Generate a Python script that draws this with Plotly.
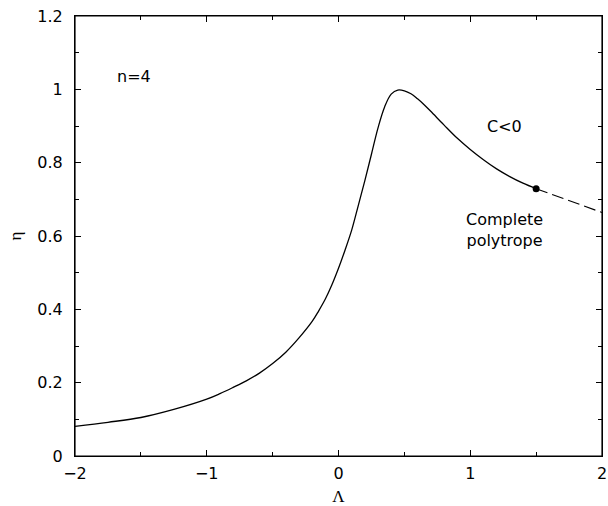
import plotly.graph_objects as go

# Solid branch (C<0)
lam_solid = [-2.0, -1.75, -1.5, -1.25, -1.0, -0.9, -0.8, -0.7, -0.6, -0.5, -0.4, -0.3,
             -0.2, -0.15, -0.1, -0.05, 0.0, 0.05, 0.1, 0.15, 0.2, 0.25, 0.3, 0.35, 0.4,
             0.45, 0.5, 0.55, 0.6, 0.65, 0.7, 0.8, 0.9, 1.0, 1.1, 1.2, 1.3, 1.4, 1.5]
eta_solid = [0.081, 0.092, 0.105, 0.127, 0.155, 0.170, 0.187, 0.205, 0.226, 0.252, 0.283, 0.322,
             0.367, 0.396, 0.428, 0.467, 0.512, 0.562, 0.616, 0.683, 0.751, 0.823, 0.895, 0.952, 0.987,
             0.998, 0.996, 0.988, 0.974, 0.958, 0.940, 0.903, 0.867, 0.836, 0.808, 0.783, 0.762,
             0.744, 0.729]

# Dashed continuation
lam_dash = [1.5, 1.75, 2.0]
eta_dash = [0.729, 0.696, 0.664]

# Complete polytrope point
lam_point = [1.5]
eta_point = [0.729]

x_ticks = [-2, -1, 0, 1, 2]
y_ticks = [0, 0.2, 0.4, 0.6, 0.8, 1.0, 1.2]

FONT = "DejaVu Sans"

fig = go.Figure()
fig.add_trace(go.Scatter(x=lam_solid, y=eta_solid, mode="lines",
                         line=dict(color="black", width=1.3, shape="spline", smoothing=1.0),
                         showlegend=False, hoverinfo="skip"))
fig.add_trace(go.Scatter(x=lam_dash, y=eta_dash, mode="lines",
                         line=dict(color="black", width=1.1, dash="12px,5px"),
                         showlegend=False, hoverinfo="skip"))
fig.add_trace(go.Scatter(x=lam_point, y=eta_point, mode="markers",
                         marker=dict(color="black", size=7),
                         showlegend=False, hoverinfo="skip"))

annots = [
    dict(x=-1.556, y=1.036, text="n=4"),
    dict(x=1.26, y=0.90, text="C<0"),
    dict(x=1.26, y=0.616, text="Complete<br>polytrope"),
]
for a in annots:
    fig.add_annotation(x=a["x"], y=a["y"], text=a["text"], showarrow=False,
                       xref="x", yref="y", font=dict(family=FONT, size=16, color="black"),
                       align="center")

# frame around plotting area
fig.add_shape(type="rect", xref="paper", yref="paper", x0=0, y0=0, x1=1, y1=1,
              line=dict(color="black", width=1.2), layer="above")

axis_common = dict(showgrid=False, zeroline=False, showline=True, linecolor="black",
                   linewidth=1.2, mirror="allticks", ticks="inside", ticklen=6,
                   tickwidth=1, tickcolor="black", automargin=False,
                   ticklabeloverflow="allow",
                   tickfont=dict(family=FONT, size=16, color="black"))
minor_x = dict(dtick=0.5, ticks="inside", ticklen=3.5, tickcolor="black", tickwidth=1)
minor_y = dict(dtick=0.1, ticks="inside", ticklen=3.5, tickcolor="black", tickwidth=1)

fig.update_layout(
    xaxis=dict(range=[-2, 2], tickvals=x_ticks, ticklabelstandoff=3, minor=minor_x,
               title=dict(text="Λ", font=dict(family="Liberation Serif", size=17, color="black"),
                          standoff=13),
               **axis_common),
    yaxis=dict(range=[0, 1.2], tickvals=y_ticks, ticklabelstandoff=8, minor=minor_y,
               title=dict(text="η", font=dict(family="Liberation Serif", size=17, color="black"),
                          standoff=11),
               **axis_common),
    width=608, height=506, plot_bgcolor="white", paper_bgcolor="white",
    margin=dict(l=75, r=6, t=16, b=50),
)

# remove the browser's default 8px body margin so the 608x506 figure fills the window exactly
fig.write_html(
    "out.html",
    config={"displayModeBar": False},
    post_script=("document.body.style.margin='0';"
                 "document.body.style.overflow='hidden';"
                 "document.documentElement.style.overflow='hidden';"),
)
